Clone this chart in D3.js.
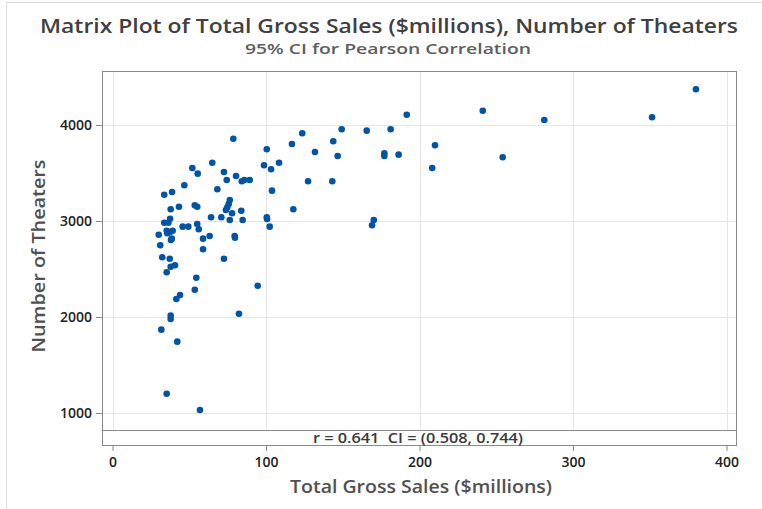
<!DOCTYPE html>
<meta charset="utf-8">
<style>
    body { margin: 0; background: #fff; }
    text { font-family: "Open Sans", "Noto Sans", sans-serif; }
    .grid line { stroke: #e6e6e6; stroke-width: 1px; }
    .tick text { font-size: 14px; fill: #222; font-weight: 600; }
</style>
<svg width="762" height="509"></svg>
<script src="https://cdnjs.cloudflare.com/ajax/libs/d3/7.8.5/d3.min.js"></script>
<script>

    // Total gross sales ($millions) and number of theaters
    var grossSales = [
        78.7, 123.6, 116.9, 131.9, 100.5, 65.0, 52.0, 55.5, 72.6, 98.7,
        103.3, 108.5, 80.5, 74.4, 84.2, 85.9, 89.4, 127.4, 46.8, 68.3,
        103.9, 33.7, 38.8, 76.4, 75.7, 74.8, 73.9, 43.3, 53.6, 55.2,
        37.9, 83.9, 77.9, 117.8, 64.2, 70.9, 76.4, 84.8, 100.5, 100.7,
        102.4, 37.5, 33.7, 36.4, 45.7, 49.4, 55.2, 56.2, 35.3, 37.5,
        39.2, 35.7, 30.1, 38.1, 38.6, 63.3, 59.0, 79.6, 79.8, 31.1,
        59.0, 32.4, 37.3, 72.6, 40.7, 37.9, 35.3, 54.6, 53.6, 94.6,
        44.0, 41.6, 82.4, 37.9, 37.9, 31.8, 42.2, 35.3, 57.0, 191.7,
        241.2, 281.3, 351.5, 380.1, 149.3, 165.6, 181.2, 143.8, 146.7, 177.1,
        177.1, 186.4, 210.1, 208.3, 254.2, 143.2, 170.2, 169.1
    ];
    var theaters = [
        3857, 3914, 3802, 3719, 3747, 3607, 3552, 3493, 3510, 3580,
        3539, 3607, 3469, 3427, 3414, 3427, 3427, 3414, 3372, 3330,
        3316, 3274, 3302, 3219, 3177, 3143, 3115, 3149, 3164, 3149,
        3122, 3107, 3080, 3122, 3039, 3039, 3010, 3010, 3039, 3021,
        2941, 3024, 2982, 2982, 2941, 2941, 2969, 2914, 2899, 2885,
        2899, 2872, 2857, 2802, 2816, 2844, 2816, 2844, 2826, 2747,
        2705, 2622, 2607, 2607, 2539, 2524, 2466, 2409, 2284, 2326,
        2229, 2187, 2034, 2016, 1979, 1868, 1743, 1201, 1031, 4107,
        4149, 4052, 4080, 4372, 3955, 3941, 3955, 3830, 3677, 3705,
        3677, 3691, 3789, 3552, 3664, 3414, 3010, 2955
    ];
    var xTicks = [0, 100, 200, 300, 400];
    var yTicks = [1000, 2000, 3000, 4000];

    var title = "Matrix Plot of Total Gross Sales ($millions), Number of Theaters";
    var subtitle = "95% CI for Pearson Correlation";
    var corrLabel = "r = 0.641  CI = (0.508, 0.744)";

    var svg = d3.select("svg");

    // frame of the data region and the correlation strip below it
    var frame = {left: 102, right: 736, top: 71, bottom: 445, strip: 430};

    var x = d3.scaleLinear().domain([0, 400]).range([112.5, 726.5]);
    var y = d3.scaleLinear().domain([1000, 4000]).range([413, 125]);

    // outer figure border
    svg.append("line").attr("x1", 6).attr("x2", 762).attr("y1", 2.5).attr("y2", 2.5)
        .attr("stroke", "#dcdcdc");
    svg.append("line").attr("x1", 6.5).attr("x2", 6.5).attr("y1", 2).attr("y2", 509)
        .attr("stroke", "#dcdcdc");

    function label(txt, px, py, size, width, color) {
        return svg.append("text")
            .attr("x", px).attr("y", py)
            .attr("text-anchor", "middle")
            .attr("textLength", width)
            .attr("lengthAdjust", "spacingAndGlyphs")
            .style("font-size", size + "px")
            .style("font-weight", 600)
            .style("fill", color)
            .style("white-space", "pre")
            .text(txt);
    }

    label(title, 389, 32.5, 20, 698, "#404040");
    label(subtitle, 388, 53.5, 15, 286, "#5e5e5e");

    // gridlines
    var grid = svg.append("g").attr("class", "grid");
    grid.selectAll("line.v").data(xTicks).enter().append("line")
        .attr("class", "v")
        .attr("x1", function (d) { return Math.round(x(d)) + 0.5; })
        .attr("x2", function (d) { return Math.round(x(d)) + 0.5; })
        .attr("y1", frame.top).attr("y2", frame.strip);
    grid.selectAll("line.h").data(yTicks).enter().append("line")
        .attr("class", "h")
        .attr("x1", frame.left).attr("x2", frame.right)
        .attr("y1", function (d) { return Math.round(y(d)) + 0.5; })
        .attr("y2", function (d) { return Math.round(y(d)) + 0.5; });

    // axes
    var xAxis = svg.append("g")
        .attr("transform", "translate(0," + frame.bottom + ")")
        .call(d3.axisBottom(x).tickValues(xTicks).tickSize(6).tickPadding(6).tickFormat(d3.format("d")));
    var yAxis = svg.append("g")
        .attr("transform", "translate(" + frame.left + ",0)")
        .call(d3.axisLeft(y).tickValues(yTicks).tickSize(6).tickPadding(4).tickFormat(d3.format("d")));
    [xAxis, yAxis].forEach(function (a) {
        a.select(".domain").remove();
        a.selectAll(".tick line").attr("stroke", "#888");
        a.selectAll(".tick text").style("font-family", "'Open Sans', sans-serif");
    });

    // frame + strip
    svg.append("rect")
        .attr("x", frame.left + 0.5).attr("y", frame.top + 0.5)
        .attr("width", frame.right - frame.left).attr("height", frame.bottom - frame.top)
        .attr("fill", "none").attr("stroke", "#8a8a8a");
    svg.append("line")
        .attr("x1", frame.left).attr("x2", frame.right)
        .attr("y1", frame.strip + 0.5).attr("y2", frame.strip + 0.5)
        .attr("stroke", "#8a8a8a");

    label(corrLabel, 418, 442.5, 14, 210, "#3a3a3a");

    // points
    svg.append("g")
        .selectAll("circle")
        .data(grossSales)
        .enter().append("circle")
        .attr("cx", function (d) { return x(d); })
        .attr("cy", function (d, i) { return y(theaters[i]); })
        .attr("r", 3.3)
        .attr("fill", "#0054a6");

    // axis titles
    label("Total Gross Sales ($millions)", 421, 493, 18, 262, "#505050");
    label("Number of Theaters", 0, 0, 18, 193, "#505050")
        .attr("transform", "translate(45,256) rotate(-90)");

</script>
